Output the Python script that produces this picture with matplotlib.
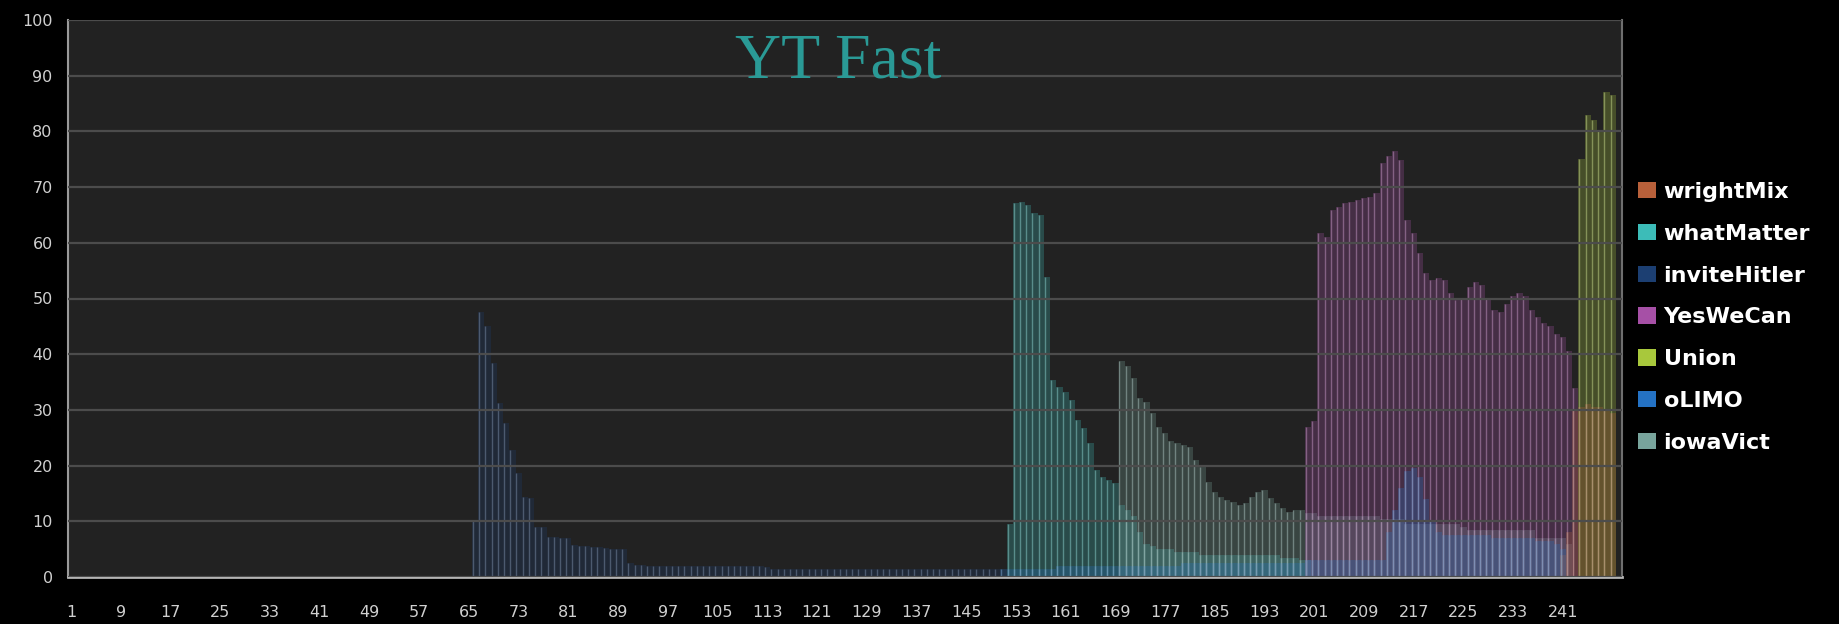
import numpy as np
import matplotlib.pyplot as plt
from matplotlib.patches import Patch
from matplotlib.colors import to_rgb

# categories 1..249 on the x axis, labels every 8th
n_cat = 249
tick_labels = [str(t) for t in range(1, 242, 8)]

# series: first category + values
invite_start = 66
invite_vals = [10, 47.6, 45, 38.4, 31.2, 27.6, 22.8, 18.7, 14.4, 14.2,
               9, 9, 7.2, 7.2, 7, 7, 5.7, 5.5, 5.5, 5.3,
               5.3, 5.2, 5, 5, 5, 2.5, 2.2, 2.1, 2, 2,
               2, 2, 2, 2, 2, 2, 2, 2, 2, 2,
               2, 2, 2, 2, 2, 2, 1.9, 1.8, 1.5, 1.5,
               1.5, 1.5, 1.5, 1.5, 1.5, 1.5, 1.5, 1.5, 1.5, 1.5,
               1.5, 1.5, 1.5, 1.5, 1.5, 1.5, 1.5, 1.5, 1.5, 1.5,
               1.5, 1.5, 1.5, 1.5, 1.5, 1.5, 1.5, 1.5, 1.5, 1.5,
               1.5, 1.5, 1.5, 1.5, 1.5]

what_start = 152
what_vals = [9.5, 67.1, 67.4, 66.8, 65.3, 65, 53.9, 35.4, 34.2, 33.3,
             31.8, 28.2, 26.7, 24, 19.2, 18, 17.4, 16.8, 13, 12,
             11, 8, 6, 5.5, 5, 5, 5, 4.5, 4.5, 4.5,
             4.5, 4, 4, 4, 4, 4, 4, 4, 4, 4,
             4, 4, 4, 4, 3.5, 3.5, 3.5, 3, 3]

iowa_start = 170
iowa_vals = [38.7, 37.8, 35.7, 32.1, 31.5, 29.4, 27, 25.8, 24.5, 24,
             23.7, 23.4, 21, 19.8, 17.1, 15.3, 14.4, 13.8, 13.5, 12.9,
             13.3, 14.4, 15.3, 15.6, 14.2, 13.3, 12.4, 11.7, 12, 12,
             11.5, 11.5, 11, 11, 11, 11, 11, 11, 11, 11,
             11, 11, 10.5, 10.5, 10.5, 10.5, 9.5, 9.5, 9.5, 9.5,
             9.5, 9.5, 9.5, 9.5, 9.5, 9, 8.5, 8.5, 8.5, 8.5,
             8.5, 8.5, 8.5, 8.5, 8.5, 8.5, 8.5, 7, 7, 7,
             7, 7, 6]

olimo_start = 151
olimo_vals = [1.5, 1.5, 1.5, 1.5, 1.5, 1.5, 1.5, 1.5, 1.5,
              2, 2, 2, 2, 2, 2, 2, 2, 2, 2,
              2, 2, 2, 2, 2, 2, 2, 2, 2, 2,
              2.5, 2.5, 2.5, 2.5, 2.5, 2.5, 2.5, 2.5, 2.5, 2.5,
              2.5, 2.5, 2.5, 2.5, 2.5, 2.5, 2.5, 2.5, 2.5, 2.5,
              3, 3, 3, 3, 3, 3, 3, 3, 3, 3,
              3, 3, 3, 8, 12, 16, 19, 19.5, 18, 14,
              10, 8, 7.5, 7.5, 7.5, 7.5, 7.5, 7.5, 7.5, 7.5,
              7, 7, 7, 7, 7, 7, 7, 6.5, 6.5, 6.5,
              6, 5]

yes_start = 200
yes_vals = [27, 28, 61.7, 61.1, 65.9, 66.5, 67.1, 67.4, 67.7, 68,
            68.3, 68.9, 74.3, 75.5, 76.4, 74.9, 64.1, 61.7, 58.1, 54.5,
            53.3, 53.6, 53.3, 51, 49.7, 50, 52, 53, 52.5, 50,
            48, 47.5, 49, 50.5, 51, 50.5, 48, 46.7, 45.6, 45,
            43.7, 43, 40.5, 34]

wright_start = 241
wright_vals = [4, 8, 30, 30.5, 31, 30.5, 30.5, 30, 29.5]

union_start = 244
union_vals = [75, 83, 82, 80, 87, 86.5]

series = [
    ("inviteHitler", invite_start, invite_vals, "#1c3f72"),
    ("whatMatter", what_start, what_vals, "#3cbcb8"),
    ("iowaVict", iowa_start, iowa_vals, "#78a49c"),
    ("YesWeCan", yes_start, yes_vals, "#a650a6"),
    ("Union", union_start, union_vals, "#a8c83c"),
    ("wrightMix", wright_start, wright_vals, "#b8603a"),
    ("oLIMO", olimo_start, olimo_vals, "#2472c4"),
]
legend_order = ["wrightMix", "whatMatter", "inviteHitler", "YesWeCan",
                "Union", "oLIMO", "iowaVict"]

fig = plt.figure(figsize=(18.39, 6.24), dpi=100, facecolor="black")
ax = fig.add_axes([68 / 1839, 1 - 577 / 624, (1622 - 68) / 1839, (577 - 20) / 624])
ax.set_facecolor("#222222")

colors = {}
for name, start, vals, col in series:
    colors[name] = col
    x = np.arange(start, start + len(vals))
    ax.bar(x, vals, width=1.0, color=col, alpha=0.27, linewidth=0, zorder=1)
    light = 0.5 * np.array(to_rgb(col)) + 0.5 * 0.72
    ax.vlines(x - 0.35, 0, vals, colors=[light], linewidth=1.0, alpha=0.6, zorder=2)

ax.set_xlim(0.5, n_cat + 1.5)
ax.set_ylim(0, 100)
ax.set_yticks(range(0, 101, 10))
ax.set_xticks(range(1, 242, 8))
ax.set_xticklabels(tick_labels)
ax.yaxis.grid(True, color="#4c4c4c", linewidth=1.6, zorder=3)
ax.set_axisbelow(False)
ax.tick_params(axis="both", length=0, colors="#d0d0d0", labelsize=11.5)
ax.tick_params(axis="x", pad=20)
ax.tick_params(axis="y", pad=11)

ax.spines["top"].set_visible(False)
ax.spines["left"].set_color("#9a9a9a")
ax.spines["left"].set_linewidth(1.5)
ax.spines["bottom"].set_color("#b4b4b4")
ax.spines["bottom"].set_linewidth(2)
ax.spines["right"].set_color("#6e6e6e")
ax.spines["right"].set_linewidth(1.5)

fig.text(838 / 1839, 1 - 77 / 624, "YT Fast", color="#2a9a96", fontsize=46,
         family="Liberation Serif", ha="center", va="baseline")

handles = [Patch(facecolor=colors[n], edgecolor="none") for n in legend_order]
fig.legend(handles, legend_order, loc="upper left", bbox_to_anchor=(1638 / 1839, 1 - 182 / 624),
           frameon=False, labelcolor="white", prop={"weight": "bold", "size": 16},
           handlelength=0.8, handleheight=0.75, handletextpad=0.35, labelspacing=0.98,
           borderpad=0, borderaxespad=0)

fig.savefig("out.png", dpi=100, facecolor="black")
